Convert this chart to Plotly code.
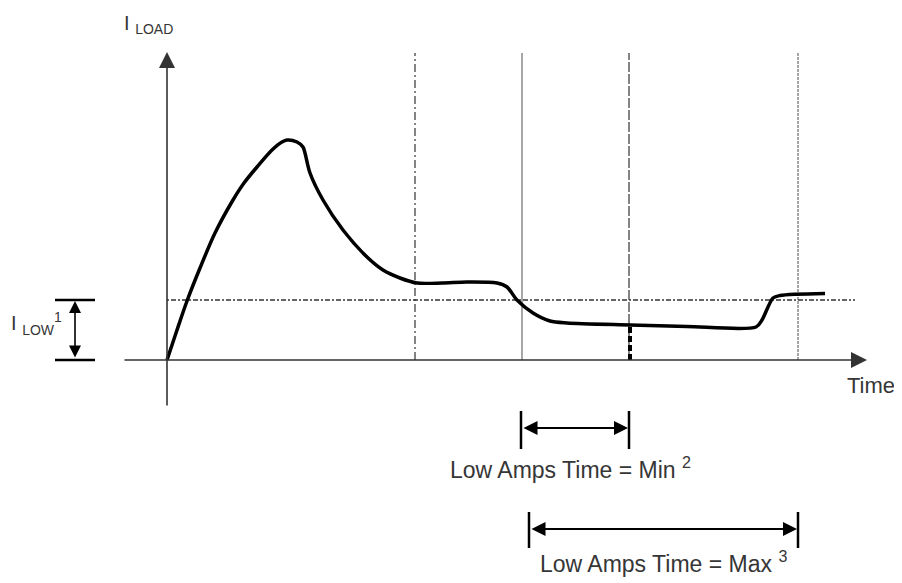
import plotly.graph_objects as go

# load current curve (arbitrary units)
time = [0, 1.0, 2.0, 3.3, 4.8, 6.6, 7.7, 9.0, 10.5, 11.5, 12.0, 13.0, 13.6, 13.8,
        14.3, 15.6, 17.6, 20.0, 21.6, 23.3, 25.0, 27.5, 30.0, 33.0, 34.0,
        35.0, 36.6, 38.3, 40.0, 46.3, 52.0, 58.9, 59.5, 60.6, 61.3, 65.8]
current = [0, 3.0, 5.9, 9.2, 12.7, 16.0, 17.7, 19.3, 21.0, 21.8, 22.0, 21.8, 21.3, 20.7,
           18.7, 16.0, 13.0, 10.3, 9.0, 8.2, 7.7, 7.7, 7.8, 7.7, 7.3,
           6.0, 4.7, 3.9, 3.7, 3.5, 3.35, 3.3, 4.0, 6.2, 6.45, 6.65]

i_low = 6.0
marker_times = [24.8, 35.5, 46.2, 63.1]
min_span = [35.4, 46.2]
max_span = [36.2, 63.1]
sample_time = 46.3
sample_current = 3.5

TXT = "#363636"
FONT = "Liberation Sans, Arial, sans-serif"

fig = go.Figure()

# vertical marker lines
marker_styles = [
    dict(color="#333", width=1.2, dash="8px,3px,2px,3px"),
    dict(color="#777", width=1.3, dash="solid"),
    dict(color="#333", width=1.2, dash="10px,2px"),
    dict(color="#777", width=1.3, dash="3px,1px"),
]
for t, st in zip(marker_times, marker_styles):
    fig.add_trace(go.Scatter(x=[t, t], y=[0, 30.7], mode="lines", line=st,
                             hoverinfo="skip"))

# I_LOW threshold
fig.add_trace(go.Scatter(x=[0, 68.8], y=[i_low, i_low], mode="lines",
                         line=dict(color="#333", width=1.5, dash="2px,2px,5px,2px"),
                         hoverinfo="skip"))

# sample drop at min time
fig.add_trace(go.Scatter(x=[sample_time, sample_time], y=[0, sample_current],
                         mode="lines", line=dict(color="black", width=4, dash="6px,3px"),
                         hoverinfo="skip"))

# load curve
fig.add_trace(go.Scatter(x=time, y=current, mode="lines",
                         line=dict(color="black", width=3.5, shape="spline", smoothing=0.8),
                         hoverinfo="skip"))

# bracket end ticks
def seg(x0, x1, y0, y1, w=2.5):
    fig.add_trace(go.Scatter(x=[x0, x1], y=[y0, y1], mode="lines",
                             line=dict(color="black", width=w), hoverinfo="skip"))

seg(-11.2, -7.2, i_low, i_low)
seg(-11.2, -7.2, 0, 0)
seg(min_span[0], min_span[0], -5.1, -8.9)
seg(min_span[1], min_span[1], -5.1, -8.9)
seg(max_span[0], max_span[0], -15.2, -18.8)
seg(max_span[1], max_span[1], -15.2, -18.8)

ann = []
# axes with arrows
ann.append(dict(x=0, y=30.8, ax=0, ay=-4.7, axref="x", ayref="y", showarrow=True,
                arrowhead=2, arrowsize=2, arrowwidth=1.6, arrowcolor="#333", text=""))
ann.append(dict(x=70.0, y=0, ax=-4.4, ay=0, axref="x", ayref="y", showarrow=True,
                arrowhead=2, arrowsize=2, arrowwidth=1.6, arrowcolor="#333", text=""))

# double arrows
def dbl(x0, y0, x1, y1, w=2, s=1.4):
    ann.append(dict(x=x1, y=y1, ax=x0, ay=y0, axref="x", ayref="y", showarrow=True,
                    arrowhead=2, startarrowhead=2, arrowside="end+start",
                    arrowsize=s, startarrowsize=s, arrowwidth=w, arrowcolor="black",
                    text=""))

dbl(-9.2, 0.1, -9.2, i_low - 0.1, w=1.6, s=1.5)
dbl(min_span[0] + 0.1, -6.8, min_span[1] - 0.1, -6.8)
dbl(max_span[0] + 0.1, -16.9, max_span[1] - 0.1, -16.9)

# labels
ann.append(dict(x=-4.5, y=33.6, xanchor="left", yanchor="middle", showarrow=False,
                text="I <sub>LOAD</sub>", font=dict(size=20, color=TXT, family=FONT)))
ann.append(dict(x=-15.8, y=3.7, xanchor="left", yanchor="middle", showarrow=False,
                text="I <sub>LOW</sub><sup>1</sup>", font=dict(size=20, color=TXT, family=FONT)))
ann.append(dict(x=70.4, y=-2.5, xanchor="center", yanchor="middle", showarrow=False,
                text="Time", font=dict(size=22, color=TXT, family=FONT)))
ann.append(dict(x=40.3, y=-10.8, xanchor="center", yanchor="middle", showarrow=False,
                text="Low Amps Time = Min <sup>2</sup>", font=dict(size=23, color=TXT, family=FONT)))
ann.append(dict(x=49.6, y=-20.2, xanchor="center", yanchor="middle", showarrow=False,
                text="Low Amps Time = Max <sup>3</sup>", font=dict(size=23, color=TXT, family=FONT)))

# the page body adds an 8px margin, so the figure is 8px smaller and the
# ranges start 8px in
fig.update_layout(
    width=894, height=575,
    margin=dict(l=0, r=0, t=0, b=0),
    paper_bgcolor="white", plot_bgcolor="white",
    showlegend=False,
    xaxis=dict(range=[-15.9, 73.5], visible=False, fixedrange=True),
    yaxis=dict(range=[-22.3, 35.2], visible=False, fixedrange=True),
    annotations=ann,
)

fig.write_html("out.html")
